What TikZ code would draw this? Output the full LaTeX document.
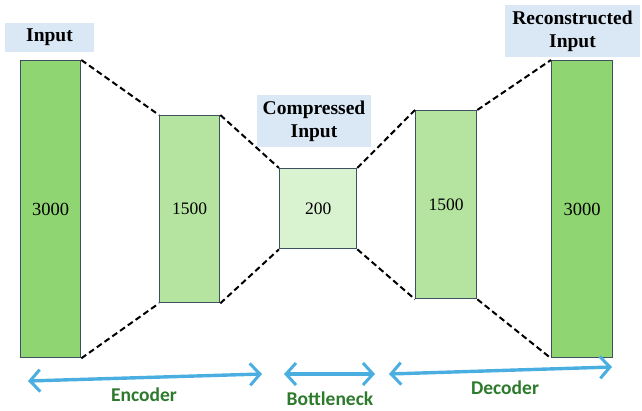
\documentclass[tikz,border=0pt]{standalone}
\usepackage{fontspec}
\setmainfont{Liberation Serif}[BoldFont={Liberation Serif Bold}]
\newfontfamily\labelfont{Carlito}
\usetikzlibrary{arrows.meta}
\usetikzlibrary{positioning}
\definecolor{layerdark}{HTML}{8FD672}
\definecolor{layermid}{HTML}{B5E4A0}
\definecolor{layerlight}{HTML}{D9F2D0}
\definecolor{layeredge}{HTML}{3D5060}
\definecolor{tagblue}{HTML}{DAE8F5}
\definecolor{spanblue}{HTML}{4AAFE0}
\definecolor{spangreen}{HTML}{2D7A2D}

\begin{document}
\begin{tikzpicture}[x=1pt,y=-1pt,
    layer/.style={draw=layeredge,line width=1.3pt,rectangle,anchor=north west,inner sep=0pt},
    tag/.style={fill=tagblue,align=center,inner sep=3pt,font=\bfseries\fontsize{19.5}{23}\selectfont},
    funnel/.style={-,line width=2pt,dash pattern=on 6pt off 3.5pt},
    span/.style={{Straight Barb[length=10pt,width=22pt,line width=3pt]}-{Straight Barb[length=10pt,width=22pt,line width=3pt]},draw=spanblue,line width=3.4pt},
    spantext/.style={text=spangreen,font=\labelfont\bfseries\fontsize{19.5}{22}\selectfont}]
   \useasboundingbox (0,0) rectangle (642,410);
   % layers
   \node[layer,fill=layerdark,minimum width=60pt,minimum height=297pt] (in) at (20,60) {};
   \node at (in.center) {\fontsize{18.5}{20}\selectfont 3000};
   \node[layer,fill=layermid,minimum width=60pt,minimum height=187pt] (enc) at (159,115) {};
   \node at (enc.center) {\fontsize{17.5}{20}\selectfont 1500};
   \node[layer,fill=layerlight,minimum width=77pt,minimum height=80pt] (code) at (279,168) {};
   \node at (code.center) {\fontsize{17.5}{20}\selectfont 200};
   \node[layer,fill=layermid,minimum width=61pt,minimum height=188pt] (dec) at (415,110) {};
   \node at (dec.center) {\fontsize{17.5}{20}\selectfont 1500};
   \node[layer,fill=layerdark,minimum width=61pt,minimum height=297pt] (out) at (551,60) {};
   \node at (out.center) {\fontsize{18.5}{20}\selectfont 3000};
   % tags
   \node[tag,minimum width=89pt,minimum height=29pt] (intag) at (49.5,37.5) {Input};
   \node[tag,minimum width=114pt,minimum height=52pt] (codetag) at (314,121) {Compressed\\Input};
   \node[tag,minimum width=135pt,minimum height=52pt] (outtag) at (572.5,31) {Reconstructed\\Input};
   % dashed funnel
   \draw[funnel] (in.north east) -- (enc.north west);
   \draw[funnel] (in.south east) -- (enc.south west);
   \draw[funnel] (enc.north east) -- (code.north west);
   \draw[funnel] (enc.south east) -- (code.south west);
   \draw[funnel] (code.north east) -- (dec.north west);
   \draw[funnel] (code.south east) -- (dec.south west);
   \draw[funnel] (dec.north east) -- (out.north west);
   \draw[funnel] (dec.south east) -- (out.south west);
   % spans
   \coordinate (encL) at (28,381);
   \coordinate (encR) at (262,374);
   \coordinate (botL) at (284,374);
   \coordinate (botR) at (375,374);
   \coordinate (decL) at (389,374);
   \coordinate (decR) at (612,367);
   \draw[span] (encL) -- (encR);
   \draw[span] (botL) -- (botR);
   \draw[span] (decL) -- (decR);
   \node[spantext] (enclab) at (144,395) {Encoder};
   \node[spantext] (botlab) at (330,399) {Bottleneck};
   \node[spantext] (declab) at (505,388) {Decoder};
\end{tikzpicture}
\end{document}
